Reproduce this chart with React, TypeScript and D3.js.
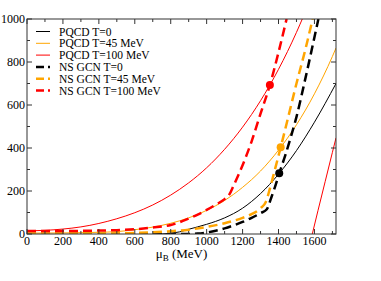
import React from "react";
import * as d3 from "d3";

type Pt = [number, number];

const xTicks = [0, 200, 400, 600, 800, 1000, 1200, 1400, 1600];
const xMinor = [100, 300, 500, 700, 900, 1100, 1300, 1500, 1700];
const yTicks = [0, 200, 400, 600, 800, 1000];
const yMinor = [100, 300, 500, 700, 900];

// thin lines: PQCD
const pqcdT0: Pt[] = [
  [750, 0], [800, 4], [850, 10], [900, 22], [1000, 45], [1100, 75], [1200, 120],
  [1300, 188], [1400, 278], [1500, 388], [1600, 520], [1720, 700],
];
const pqcdT45: Pt[] = [
  [0, 4], [200, 5], [400, 8], [500, 11], [600, 20], [700, 32], [800, 50], [900, 75],
  [1000, 110], [1100, 156], [1200, 217], [1300, 293], [1400, 390], [1500, 508],
  [1600, 652], [1700, 826], [1720, 865],
];
const pqcdT100: Pt[] = [
  [0, 15], [100, 17], [200, 23], [300, 33], [400, 49], [500, 71], [600, 99], [700, 135],
  [800, 181], [900, 238], [1000, 308], [1100, 394], [1200, 497], [1300, 620],
  [1400, 766], [1500, 938], [1540, 1015],
];
const pqcdT100b: Pt[] = [[1588, 0], [1620, 110], [1660, 245], [1700, 380], [1720, 447]];

// thick dashed: NS GCN
const gcnT0: Pt[] = [
  [0, 0], [900, 0], [950, 2], [1000, 7], [1050, 15], [1100, 26], [1150, 40], [1200, 56],
  [1250, 75], [1300, 97], [1335, 115], [1360, 170], [1380, 218], [1404, 282],
  [1440, 372], [1470, 455], [1500, 545], [1550, 725], [1600, 915], [1622, 1000],
];
const gcnT45: Pt[] = [
  [0, 2], [300, 2], [500, 3], [600, 5], [700, 8], [800, 13], [900, 20], [1000, 33],
  [1100, 50], [1200, 75], [1250, 92], [1300, 120], [1330, 150], [1350, 205],
  [1380, 300], [1412, 403], [1450, 530], [1500, 700], [1550, 860], [1590, 1000],
];
const gcnT100: Pt[] = [
  [0, 14], [200, 14], [400, 16], [500, 18], [600, 22], [700, 30], [800, 42], [850, 55],
  [900, 72], [950, 90], [1000, 112], [1050, 136], [1100, 162], [1125, 182],
  [1150, 225], [1200, 320], [1250, 430], [1300, 560], [1352, 693], [1400, 845], [1445, 1000],
];

const crossings: Pt[] = [[1404, 282], [1412, 403], [1352, 693]];
const crossColors = ["#000000", "#ffa500", "#ff0000"];

const legendNames = [
  "PQCD T=0", "PQCD T=45 MeV", "PQCD T=100 MeV",
  "NS GCN T=0", "NS GCN T=45 MeV", "NS GCN T=100 MeV",
];
const legendColors = ["#000000", "#ffa500", "#ff0000", "#000000", "#ffa500", "#ff0000"];

export default function App() {
  const width = 381;
  const height = 281;
  const x = d3.scaleLinear().domain([0, 1720]).range([27, 336]);
  const y = d3.scaleLinear().domain([0, 1000]).range([234, 19]);
  const line = d3
    .line<Pt>()
    .x(d => x(d[0]))
    .y(d => y(d[1]))
    .curve(d3.curveMonotoneX);

  const [x0, x1] = x.range();
  const [y0, y1] = y.range();
  const font = "'Liberation Serif', 'Times New Roman', serif";
  const axisColor = "#333";

  const thin = [
    { d: pqcdT0, c: "#000000" },
    { d: pqcdT45, c: "#ffa500" },
    { d: pqcdT100, c: "#ff0000" },
    { d: pqcdT100b, c: "#ff0000" },
  ];
  const dashed = [
    { d: gcnT0, c: "#000000" },
    { d: gcnT45, c: "#ffa500" },
    { d: gcnT100, c: "#ff0000" },
  ];

  return (
    <svg
      width={width}
      height={height}
      style={{ position: "absolute", left: 0, top: 0, background: "#fff" }}
      fontFamily={font}
    >
      <defs>
        <clipPath id="plot">
          <rect x={x0} y={y1} width={x1 - x0} height={y0 - y1} />
        </clipPath>
      </defs>

      <g clipPath="url(#plot)" fill="none">
        {thin.map((s, i) => (
          <path key={"t" + i} d={line(s.d) || ""} stroke={s.c} strokeWidth={1} />
        ))}
        {dashed.map((s, i) => (
          <path
            key={"d" + i}
            d={line(s.d) || ""}
            stroke={s.c}
            strokeWidth={2.5}
            strokeDasharray="9,5"
          />
        ))}
        {crossings.map((p, i) => (
          <circle key={"c" + i} cx={x(p[0])} cy={y(p[1])} r={4} fill={crossColors[i]} />
        ))}
      </g>

      {/* frame */}
      <rect x={x0} y={y1} width={x1 - x0} height={y0 - y1} fill="none" stroke={axisColor} strokeWidth={1} />

      {/* ticks, all sides, inward */}
      <g stroke={axisColor} strokeWidth={1}>
        {xTicks.map(t => (
          <g key={"xt" + t}>
            <line x1={x(t)} x2={x(t)} y1={y0} y2={y0 - 5} />
            <line x1={x(t)} x2={x(t)} y1={y1} y2={y1 + 5} />
          </g>
        ))}
        {xMinor.map(t => (
          <g key={"xm" + t}>
            <line x1={x(t)} x2={x(t)} y1={y0} y2={y0 - 3} />
            <line x1={x(t)} x2={x(t)} y1={y1} y2={y1 + 3} />
          </g>
        ))}
        {yTicks.map(t => (
          <g key={"yt" + t}>
            <line x1={x0} x2={x0 + 5} y1={y(t)} y2={y(t)} />
            <line x1={x1} x2={x1 - 5} y1={y(t)} y2={y(t)} />
          </g>
        ))}
        {yMinor.map(t => (
          <g key={"ym" + t}>
            <line x1={x0} x2={x0 + 3} y1={y(t)} y2={y(t)} />
            <line x1={x1} x2={x1 - 3} y1={y(t)} y2={y(t)} />
          </g>
        ))}
      </g>

      {/* tick labels */}
      <g fontSize={12} fill="#000">
        {xTicks.map(t => (
          <text key={"xl" + t} x={x(t)} y={y0 + 11} textAnchor="middle">
            {t}
          </text>
        ))}
        {yTicks.map(t => (
          <text key={"yl" + t} x={x0 - 2} y={y(t) + 4} textAnchor="end">
            {t}
          </text>
        ))}
      </g>

      {/* axis title */}
      <text x={(x0 + x1) / 2} y={258} textAnchor="middle" fontSize={13} fill="#000">
        μ<tspan fontSize={9} dy={3}>B</tspan>
        <tspan dy={-3}> (MeV)</tspan>
      </text>

      {/* legend */}
      <g fontSize={11.5}>
        {legendNames.map((name, i) => {
          const cy = 31.5 + i * 11.8;
          const isDashed = i >= 3;
          return (
            <g key={name}>
              <line
                x1={36}
                x2={50}
                y1={cy}
                y2={cy}
                stroke={legendColors[i]}
                strokeWidth={isDashed ? 2.5 : 1}
                strokeDasharray={isDashed ? "8,4" : undefined}
              />
              <text x={59} y={cy + 4} fill="#000">
                {name}
              </text>
            </g>
          );
        })}
      </g>
    </svg>
  );
}
